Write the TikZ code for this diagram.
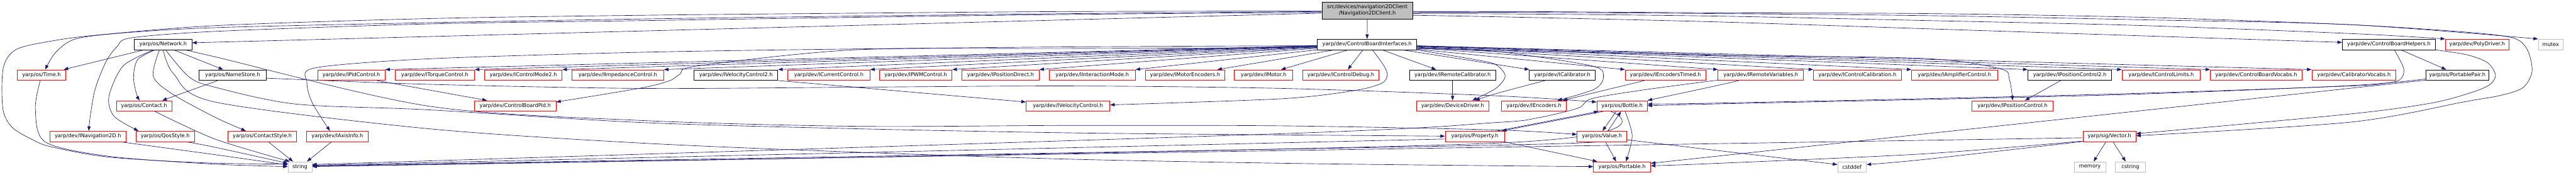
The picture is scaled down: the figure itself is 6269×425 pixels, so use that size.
\documentclass[tikz,border=0pt]{standalone}
\usepackage{fontspec}
\newfontfamily\dvs{DejaVu Sans}
\usetikzlibrary{arrows.meta}
\definecolor{edgec}{HTML}{191970}
\definecolor{redb}{HTML}{FF0000}
\definecolor{grayb}{HTML}{BFBFBF}
\pgfdeclarelayer{edgelayer}
\pgfsetlayers{edgelayer,main}
\newcommand\mknode[6]{\node[#1,minimum width=#2pt] (#3) at (#4,#5) {#6};}
\begin{document}
\begin{tikzpicture}[x=1pt,y=-1pt,
 box/.style={draw,line width=1.2pt,inner sep=0pt,minimum height=25.5pt,fill=white,font=\dvs\fontsize{12.6}{15.5}\selectfont},
 rb/.style={box,draw=redb},
 kb/.style={box,draw=black},
 gb/.style={box,draw=grayb},
 dep/.style={draw=edgec,line width=1pt,-{Triangle[length=11pt,width=8pt]}},
 sm/.style={smooth,tension=0.5}]
\useasboundingbox (0,0) rectangle (6269,425);
% ---- nodes
\mknode{box,draw=black,fill=grayb,minimum height=41pt,align=center}{221}{R}{3327.5}{25.5}{src/devices/navigation2DClient\\/Navigation2DClient.h}
% row 1
\mknode{kb}{140}{net}{397}{108}{yarp/os/Network.h}
\mknode{kb}{242}{cbi}{3327}{108}{yarp/dev/ControlBoardInterfaces.h}
\mknode{kb}{227}{cbh}{5813.5}{108}{yarp/dev/ControlBoardHelpers.h}
\mknode{rb}{155}{poly}{6028.5}{108}{yarp/dev/PolyDriver.h}
\mknode{gb}{61}{mutex}{6207.5}{108}{mutex}
% row 2
\mknode{rb}{118}{time}{101}{182.5}{yarp/os/Time.h}
\mknode{kb}{164}{names}{566}{182.5}{yarp/os/NameStore.h}
\mknode{rb}{164}{ipid}{855}{182.5}{yarp/dev/IPidControl.h}
\mknode{rb}{194}{itorq}{1058}{182.5}{yarp/dev/ITorqueControl.h}
\mknode{rb}{189}{icm2}{1273.5}{182.5}{yarp/dev/IControlMode2.h}
\mknode{rb}{223}{iimp}{1503.5}{182.5}{yarp/dev/IImpedanceControl.h}
\mknode{kb}{204}{ivel2}{1791}{182.5}{yarp/dev/IVelocityControl2.h}
\mknode{rb}{200}{icur}{2017}{182.5}{yarp/dev/ICurrentControl.h}
\mknode{rb}{177}{ipwm}{2228.5}{182.5}{yarp/dev/IPWMControl.h}
\mknode{rb}{188}{ipd}{2435}{182.5}{yarp/dev/IPositionDirect.h}
\mknode{rb}{210}{iim}{2658}{182.5}{yarp/dev/IInteractionMode.h}
\mknode{rb}{194}{ime}{2884}{182.5}{yarp/dev/IMotorEncoders.h}
\mknode{rb}{142}{imot}{3075}{182.5}{yarp/dev/IMotor.h}
\mknode{rb}{186}{icd}{3263}{182.5}{yarp/dev/IControlDebug.h}
\mknode{kb}{210}{irc}{3535}{182.5}{yarp/dev/IRemoteCalibrator.h}
\mknode{kb}{160}{ical}{3802}{182.5}{yarp/dev/ICalibrator.h}
\mknode{rb}{196}{iet}{4053}{182.5}{yarp/dev/IEncodersTimed.h}
\mknode{rb}{208}{irv}{4285}{182.5}{yarp/dev/IRemoteVariables.h}
\mknode{rb}{214}{icc}{4520}{182.5}{yarp/dev/IControlCalibration.h}
\mknode{rb}{209}{iamp}{4756.5}{182.5}{yarp/dev/IAmplifierControl.h}
\mknode{kb}{204}{ipc2}{5037}{182.5}{yarp/dev/IPositionControl2.h}
\mknode{rb}{191}{icl}{5259.5}{182.5}{yarp/dev/IControlLimits.h}
\mknode{rb}{223}{cbv}{5490.5}{182.5}{yarp/dev/ControlBoardVocabs.h}
\mknode{rb}{205}{calv}{5728.5}{182.5}{yarp/dev/CalibratorVocabs.h}
\mknode{kb}{154}{ppair}{5980}{182.5}{yarp/os/PortablePair.h}
% row 3
\mknode{rb}{135}{contact}{350.5}{257.5}{yarp/os/Contact.h}
\mknode{rb}{198}{cbpid}{1254}{257.5}{yarp/dev/ControlBoardPid.h}
\mknode{rb}{204}{ivel}{2599}{257.5}{yarp/dev/IVelocityControl.h}
\mknode{rb}{176}{dd}{3535}{257.5}{yarp/dev/DeviceDriver.h}
\mknode{rb}{158}{ienc}{3733}{257.5}{yarp/dev/IEncoders.h}
\mknode{rb}{123}{bottle}{3947.5}{257.5}{yarp/os/Bottle.h}
\mknode{rb}{197}{ipc}{4897.5}{257.5}{yarp/dev/IPositionControl.h}
% row 4
\mknode{rb}{186}{inav}{214}{331.5}{yarp/dev/INavigation2D.h}
\mknode{rb}{142}{qos}{402}{331.5}{yarp/os/QosStyle.h}
\mknode{rb}{167}{cstyle}{638.5}{331.5}{yarp/os/ContactStyle.h}
\mknode{rb}{150}{iaxis}{821}{331.5}{yarp/dev/IAxisInfo.h}
\mknode{rb}{144}{prop}{3589}{331.5}{yarp/os/Property.h}
\mknode{rb}{121}{value}{3898.5}{331.5}{yarp/os/Value.h}
\mknode{rb}{129}{vector}{5133.5}{331.5}{yarp/sig/Vector.h}
% row 5
\mknode{gb}{58}{string}{730}{406}{string}
\mknode{rb}{139}{portable}{3947.5}{406}{yarp/os/Portable.h}
\mknode{gb}{70}{cstddef}{4507}{406}{cstddef}
\mknode{gb}{76}{memory}{5086}{406}{memory}
\mknode{gb}{73}{cstring}{5184.5}{406}{cstring}
% ---- edges
\begin{pgfonlayer}{edgelayer}
\fill[white] (0,0) rectangle (6269,425);
% root
\draw[dep] (R) -- (cbi);
\draw[dep] (R.west |- 0,32) -- (net.east |- 0,104);
\draw[dep] plot[sm] coordinates {(R.west |- 0,28) (2610,33) (2090,39) (1570,46) (1050,55) (530,67) (300,80) (183,95) (135,128) (time.north -| 110,0)};
\draw[dep] plot[sm] coordinates {(R.west |- 0,30) (2610,35) (2090,42) (1570,50) (1050,58) (530,76) (320,92) (285,113) (258,150) (232,215) (220,280) (inav.north -| 216,0)};
\draw[dep] plot[sm] coordinates {(R.west |- 0,27) (2610,28) (2090,32) (1570,37) (1050,45) (530,62) (240,85) (130,99) (40,120) (8,165) (7,265) (30,310) (80,340) (125,357) (265,382) (500,396) (string.west |- 0,399)};
\draw[dep] plot[sm] coordinates {(R.east |- 0,37) (3700,42) (4170,53) (4690,70) (5210,87) (cbh.west |- 0,103)};
\draw[dep] plot[sm] coordinates {(R.east |- 0,33) (3700,34) (4170,39) (4690,50) (5210,62) (5730,82) (poly.north west)};
\draw[dep] plot[sm] coordinates {(R.east |- 0,30) (3700,30) (4170,33) (4690,38) (5210,48) (5720,60) (mutex.north west)};
\draw[dep] plot[sm] coordinates {(R.east |- 0,28) (3700,28) (4170,31) (4690,33) (5210,42) (5720,60) (6000,78) (6115,92) (6150,120) (6162,173) (6140,213) (6085,232) (6000,247) (5720,297) (vector.east |- 0,330)};
% network
\draw[dep] (net.south -| 350,0) -- (time.north -| 155,0);
\draw[dep] plot[sm] coordinates {(net.south -| 377,0) (335,145) (325,187) (332,228) (contact.north -| 340,0)};
\draw[dep] plot[sm] coordinates {(net.south -| 374,0) (300,160) (265,235) (278,283) (qos.north -| 337,0)};
\draw[dep] (net.south -| 423,0) -- (names.north -| 543,0);
\draw[dep] plot[sm] coordinates {(net.south -| 388,0) (373,185) (417,227) (523,285) (cstyle.north -| 598,0)};
\draw[dep] plot[sm] coordinates {(net.south -| 450,0) (523,138) (1043,258) (1563,293) (2083,307) (2603,305) (3123,306) (3643,316) (value.west |- 0,327)};
\draw[dep] plot[sm] coordinates {(net.south -| 403,0) (460,187) (523,212) (720,253) (1043,267) (1563,298) (2083,313) (2603,323) (3123,328) (prop.west |- 0,331)};
\draw[dep] plot[sm] coordinates {(net.south -| 397,0) (423,180) (523,248) (1043,313) (1563,348) (2083,370) (2603,387) (3123,397) (3643,403) (portable.west |- 0,405)};
% namestore
\draw[dep] (names.south -| 530,0) -- (contact.north -| 395,0);
\draw[dep] plot[sm] coordinates {(names.east |- 0,190) (1043,205) (1563,215) (2083,212) (2603,209) (3123,215) (3643,233) (bottle.west |- 0,248)};
% into string
\draw[dep] plot[sm] coordinates {(time.south -| 98,0) (86,265) (110,345) (265,380) (520,399) (string.west |- 0,405)};
\draw[dep] plot[sm] coordinates {(contact.south -| 377,0) (523,338) (string.north -| 705,0)};
\draw[dep] plot[sm] coordinates {(qos.south -| 453,0) (523,358) (string.west |- 0,397)};
\draw[dep] plot[sm] coordinates {(inav.south -| 293,0) (523,376) (string.west |- 0,401)};
\draw[dep] (cstyle.south -| 653,0) -- (string.north -| 713,0);
\draw[dep] (iaxis.south -| 807,0) -- (string.north -| 747,0);
\draw[dep] (prop.west |- 0,338) -- (string.east |- 0,402);
\draw[dep] (vector.west |- 0,335) -- (string.east |- 0,404);
\draw[dep] plot[sm] coordinates {(value.west |- 0,340) (3640,353) (string.east |- 0,403)};
\draw[dep] plot[sm] coordinates {(bottle.south -| 3920,0) (3640,348) (string.east |- 0,405)};
\draw[dep] plot[sm] coordinates {(irv.south west) (4163,197) (3990,220) (3873,240) (3840,263) (3740,287) (3640,298) (3120,325) (string.east |- 0,400)};
% control board interfaces
\foreach \t in {ipid,itorq,icm2,iimp,ivel2,icur,ipwm,ipd,iim} \draw[dep] (cbi) -- (\t.north east);
\draw[dep] (cbi) -- ([xshift=-19pt]ime.north east);
\draw[dep] (cbi) -- ([xshift=-29pt]imot.north east);
\draw[dep] (cbi) -- ([xshift=17pt]icd.north);
\draw[dep] (cbi) -- ([xshift=-40pt]irc.north);
\foreach \t in {ical,iet,irv,icc,iamp,ipc2,icl,cbv,calv} \draw[dep] (cbi) -- (\t.north west);
\draw[dep] plot[sm] coordinates {(cbi.west |- 0,116) (2600,118) (2083,121) (1700,160) (1655,180) (1630,196) (1560,214) (cbpid.east |- 0,248)};
\draw[dep] plot[sm] coordinates {(cbi.west |- 0,111) (2603,114) (2083,119) (1563,127) (1043,143) (767,165) (747,200) (760,250) (iaxis.north -| 803,0)};
\draw[dep] plot[sm] coordinates {(cbi.south -| 3340,0) (3368,160) (3376,182) (3363,202) (3297,220) (3120,240) (ivel.east |- 0,255)};
\draw[dep] plot[sm] coordinates {(cbi.south east) (3590,145) (3640,157) (3663,185) (3640,215) (dd.north -| 3583,0)};
\draw[dep] plot[sm] coordinates {(cbi.east |- 0,117) (3640,125) (3873,160) (3902,187) (3880,217) (ienc.north -| 3790,0)};
\draw[dep] plot[sm] coordinates {(cbi.east |- 0,118) (4160,134) (4680,142) (4867,167) (4890,193) (ipc.north -| 4898,0)};
% second-level
\draw[dep] (ipid.south -| 917,0) -- (cbpid.north -| 1185,0);
\draw[dep] (ivel2.south east) -- (ivel.west |- 0,248);
\draw[dep] (irc) -- (dd);
\draw[dep] plot[sm] coordinates {(ical.south -| 3760,0) (3643,227) (dd.north -| 3590,0)};
\draw[dep] (iet.south -| 4002,0) -- (ienc.north -| 3803,0);
\draw[dep] (ipc2.south -| 5015,0) -- (ipc.north -| 4928,0);
\draw[dep] plot[sm] coordinates {(irv.south -| 4232,0) (4160,212) (bottle.north east)};
% helpers / portable pair
\draw[dep] (cbh.south -| 5843,0) -- (ppair.north -| 5953,0);
\draw[dep] plot[sm] coordinates {(cbh.south east) (6003,133) (6053,152) (6073,182) (6060,205) (6020,223) (5920,250) (5720,277) (vector.east |- 0,325)};
\draw[dep] plot[sm] coordinates {(cbh.south -| 5827,0) (5850,168) (5840,194) (5800,203) (5720,209) (5200,227) (4680,240) (4160,251) (bottle.east |- 0,253)};
\draw[dep] plot[sm] coordinates {(ppair.west |- 0,192) (5720,208) (5200,229) (4680,242) (4160,253) (bottle.east |- 0,257)};
\draw[dep] (ppair.west |- 0,195) -- (portable.east |- 0,397);
% vector
\draw[dep] plot[sm] coordinates {(vector.west |- 0,343) (4683,374) (4160,398) (portable.east |- 0,403)};
\draw[dep] plot[sm] coordinates {(vector.west |- 0,344) (4680,388) (cstddef.east |- 0,400)};
\draw[dep] (vector.south -| 5125,0) -- (memory.north -| 5095,0);
\draw[dep] (vector.south -| 5142,0) -- (cstring.north -| 5173,0);
% bottle / value / property / portable
\draw[dep] plot[sm] coordinates {(value.east |- 0,340) (4163,364) (cstddef.west |- 0,400)};
\draw[dep] (bottle.south -| 3933,0) -- (value.north -| 3900,0);
\draw[dep] (value.north -| 3913,0) -- (bottle.south -| 3945,0);
\draw[dep] plot[sm] coordinates {(bottle.south -| 3955,0) (3972,330) (portable.north -| 3957,0)};
\draw[dep] (value.south -| 3907,0) -- (portable.north -| 3933,0);
\draw[dep] (prop.south east) -- (portable.north -| 3887,0);
\draw[dep] (prop.north -| 3645,0) -- (bottle.south -| 3890,0);
\draw[dep] (bottle.south -| 3902,0) -- (prop.north -| 3655,0);
\end{pgfonlayer}
\end{tikzpicture}
\end{document}
